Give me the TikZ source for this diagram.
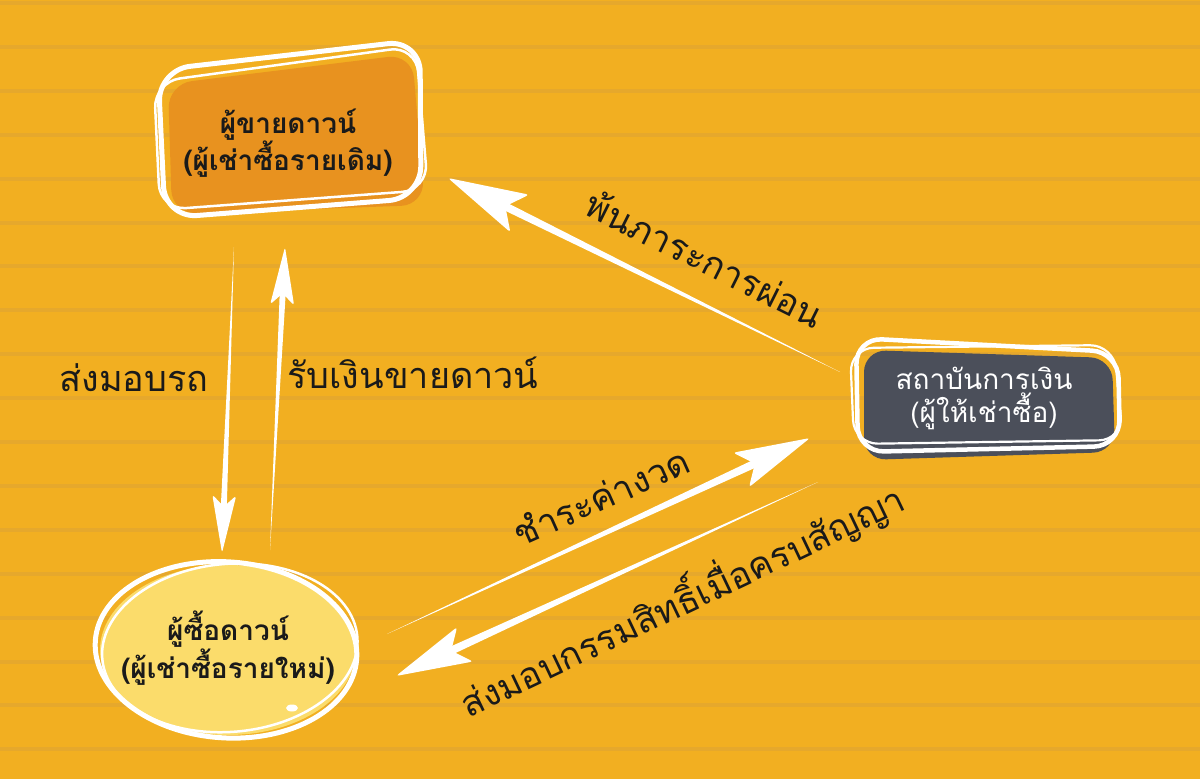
\documentclass[tikz,border=0pt]{standalone}
\usepackage{fontspec}
\newfontfamily\thai[Script=Thai]{Loma}
\usetikzlibrary{calc}
\definecolor{bg}{HTML}{F2AF21}
\definecolor{stripe}{HTML}{E6A82C}
\definecolor{boxorange}{HTML}{E8921F}
\definecolor{boxdark}{HTML}{4B4F5A}
\definecolor{boxyellow}{HTML}{FBDC6B}
\definecolor{ink}{HTML}{1A1A1A}
\newcommand\sarrow[5]{%
  \path ($(#2)!#3!(#1)$) coordinate (hb) ($(#2)!{0.8*#3}!(#1)$) coordinate (hn);
  \fill[white] (#1) -- ($(hn)!#5!90:(#2)$) -- ($(hn)!#5!-90:(#2)$) -- cycle;
  \fill[white, rounded corners=3pt] (#2) -- ($(hb)!#4!90:(#2)$) -- (hn) -- ($(hb)!#4!-90:(#2)$) -- cycle;
}
\begin{document}
\begin{tikzpicture}[x=1pt,y=-1pt,
  sketch/.style={draw=white, line cap=round, line join=round},
  lbl/.style={font=\thai\fontsize{36}{40}\selectfont, text=ink, inner sep=0pt},
  boxtxt/.style={font=\thai\bfseries\fontsize{28}{33}\selectfont, align=center, inner sep=0pt},
  boxtxtr/.style={font=\thai\fontsize{28}{33}\selectfont, align=center, inner sep=0pt}]
\useasboundingbox (0,0) rectangle (1200,779);
\fill[bg] (0,0) rectangle (1200,779);
\foreach \k in {0,...,17} \fill[stripe] (0,{3+43.9*\k-2}) rectangle (1200,{3+43.9*\k+2});

% top box
\fill[boxorange, rounded corners=24pt] (168,84) -- (412,54) -- (425,205) -- (172,214) -- cycle;
\draw[sketch, line width=5pt, rounded corners=32pt] (158,70) -- (420,40) -- (421,198) -- (165,218) -- cycle;
\draw[sketch, line width=2.5pt, rounded corners=26pt] (154,82) -- (416,46) -- (428,190) -- (160,210) -- cycle;
\node[boxtxt, text=ink] (seller) at (288,143) {ผู้ขายดาวน์\\(ผู้เช่าซื้อรายเดิม)};

% right box
\fill[boxdark, rounded corners=22pt] (864,350) -- (1112,358) -- (1115,452) -- (864,460) -- cycle;
\draw[sketch, line width=4.5pt, rounded corners=26pt] (856,338) -- (1118,352) -- (1120,446) -- (858,452) -- cycle;
\draw[sketch, line width=2.2pt, rounded corners=24pt] (850,348) -- (1114,345) -- (1123,440) -- (854,444) -- cycle;
\node[boxtxtr, text=white] (bank) at (984,398) {สถาบันการเงิน\\(ผู้ให้เช่าซื้อ)};

% bottom ellipse
\fill[boxyellow] (228,650) ellipse [x radius=128, y radius=85];
\draw[sketch, line width=5pt, rotate around={-4:(228,650)}] (226,650) ellipse [x radius=131, y radius=88];
\draw[sketch, line width=2.5pt, rotate around={5:(228,650)}] (230,648) ellipse [x radius=128, y radius=84];
\fill[white] (292,708) ellipse [x radius=6, y radius=3.5];
\node[boxtxt, text=ink] (buyer) at (228,648) {ผู้ซื้อดาวน์\\(ผู้เช่าซื้อรายใหม่)};

% arrow end points
\coordinate (s1) at (234,247); \coordinate (e1) at (222,553);
\coordinate (s2) at (270,550); \coordinate (e2) at (285,247);
\coordinate (s3) at (840,372); \coordinate (e3) at (448,178);
\coordinate (s4) at (387,634); \coordinate (e4) at (810,438);
\coordinate (s5) at (818,482); \coordinate (e5) at (396,676);
\sarrow{s1}{e1}{58pt}{12pt}{3pt}
\sarrow{s2}{e2}{58pt}{12pt}{3pt}
\sarrow{s3}{e3}{80pt}{21pt}{4pt}
\sarrow{s4}{e4}{76pt}{19pt}{4pt}
\sarrow{s5}{e5}{76pt}{19pt}{4pt}

% labels
\node[lbl] (l1) at (134,378) {ส่งมอบรถ};
\node[lbl] (l2) at (413,373) {รับเงินขายดาวน์};
\node[lbl, rotate=-26.5] (l3) at (705,258) {พ้นภาระการผ่อน};
\node[lbl, rotate=24] (l4) at (601,496) {ชำระค่างวด};
\node[lbl, rotate=25.5] (l5) at (682,600) {ส่งมอบกรรมสิทธิ์เมื่อครบสัญญา};
\end{tikzpicture}
\end{document}
